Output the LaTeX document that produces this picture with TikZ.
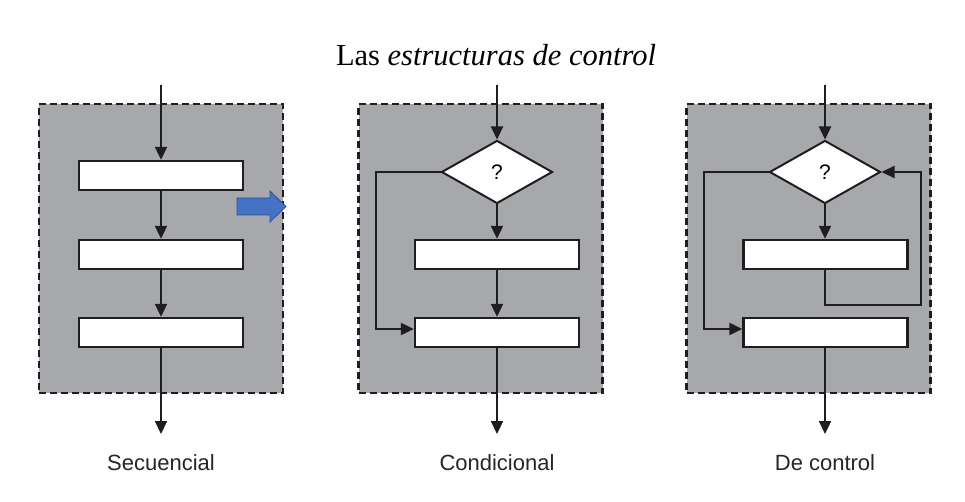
\documentclass[tikz,border=0pt]{standalone}
\usepackage{fontspec}
\setmainfont{Liberation Serif}
\setsansfont{Liberation Sans}
\usetikzlibrary{arrows.meta,shapes.geometric}
\definecolor{panelgray}{HTML}{A7A8AB}
\definecolor{linecol}{HTML}{1E1E1E}
\definecolor{bluefill}{HTML}{4472C4}
\definecolor{blueedge}{HTML}{2F528F}
\tikzset{
  panel/.style={draw=linecol, fill=panelgray, dash pattern=on 7pt off 4pt, line width=2.2pt, minimum width=244pt, minimum height=289pt, inner sep=0pt},
  procbox/.style={draw=linecol, fill=white, line width=2.4pt, minimum width=164pt, minimum height=29pt, inner sep=0pt},
  decision/.style={diamond, draw=linecol, fill=white, line width=2pt, minimum width=111pt, minimum height=63pt, inner sep=0pt, font=\sffamily\fontsize{21}{21}\selectfont},
  flow/.style={draw=linecol, line width=2.2pt, -{Triangle[length=13pt,width=12pt]}},
  caption/.style={font=\sffamily\fontsize{22}{26}\selectfont, text=black!85},
}
\begin{document}
\begin{tikzpicture}[x=1pt,y=-1pt]
\useasboundingbox (0,0) rectangle (965,502);
\node[font=\fontsize{30.5}{33}\selectfont] (title) at (496,55) {Las \textit{estructuras de control}};

% Panel 1: Secuencial
\node[panel] (p1) at (161,248.5) {};
\coordinate (s1top) at (161,85);
\node[procbox] (a1) at (161,175.5) {};
\node[procbox] (a2) at (161,254.5) {};
\node[procbox] (a3) at (161,332.5) {};
\coordinate (s1bot) at (161,434);
\draw[flow] (s1top) -- (a1.north);
\draw[flow] (a1.south) -- (a2.north);
\draw[flow] (a2.south) -- (a3.north);
\draw[flow] (a3.south) -- (s1bot);
\node[caption] (l1) at (161,463) {Secuencial};

% blue arrow
\draw[fill=bluefill, draw=blueedge, line width=0.8pt]
  (237,198) coordinate (ba1) -- (270,198) -- (270,191) -- (286,206.5) -- (270,222) -- (270,215) -- (237,215) -- cycle;

% Panel 2: Condicional
\node[panel] (p2) at (480.5,248.5) {};
\coordinate (s2top) at (497,85);
\node[decision] (d2) at (497,172) {?};
\node[procbox] (b1) at (497,254.5) {};
\node[procbox] (b2) at (497,332.5) {};
\coordinate (s2bot) at (497,434);
\draw[flow] (s2top) -- (d2.north);
\draw[flow] (d2.south) -- (b1.north);
\draw[flow] (b1.south) -- (b2.north);
\draw[flow] (d2.west) -| (376,329) -- (b2.west |- 0,329);
\draw[flow] (b2.south) -- (s2bot);
\node[caption] (l2) at (497,463) {Condicional};

% Panel 3: De control
\node[panel] (p3) at (808.5,248.5) {};
\coordinate (s3top) at (825,85);
\node[decision] (d3) at (825,172) {?};
\node[procbox] (c1) at (825.5,254.5) {};
\node[procbox] (c2) at (825.5,332.5) {};
\coordinate (s3bot) at (825,434);
\draw[flow] (s3top) -- (d3.north);
\draw[flow] (d3.south) -- (d3.south |- c1.north);
\draw[flow] (d3.south |- c1.south) -- (825,305) -| (921,172) -- (d3.east);
\draw[flow] (d3.west) -| (704,329) -- (c2.west |- 0,329);
\draw[flow] (d3.south |- c2.south) -- (s3bot);
\node[caption] (l3) at (825,463) {De control};
\end{tikzpicture}
\end{document}
